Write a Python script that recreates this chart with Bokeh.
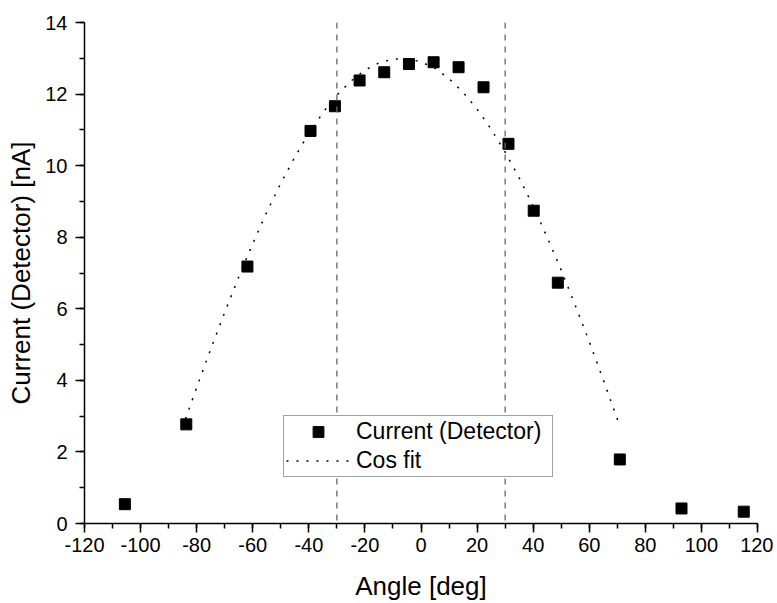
from bokeh.plotting import figure
from bokeh.models import Span, Legend, LegendItem, SingleIntervalTicker, Range1d
from bokeh.embed import file_html
from bokeh.resources import INLINE

# Measured data (Current at detector vs angle)
angle = [-105.6, -83.7, -61.9, -39.4, -30.7, -21.9, -13.1, -4.3, 4.5, 13.4,
         22.3, 31.2, 40.2, 48.8, 70.9, 92.9, 115.1]
current = [0.54, 2.77, 7.18, 10.97, 11.66, 12.38, 12.61, 12.84, 12.89, 12.75,
           12.19, 10.61, 8.74, 6.73, 1.79, 0.42, 0.33]

# Cos fit curve
fit_angle = [-84, -80, -75, -70, -65, -60, -55, -50, -45, -40, -35, -30, -25, -20,
             -15, -10, -5, 0, 5, 10, 15, 20, 25, 30, 35, 40, 45, 50, 55, 60, 65, 70, 71]
fit_current = [2.92, 3.80, 4.87, 5.90, 6.89, 7.82, 8.70, 9.51, 10.24, 10.90, 11.48,
               11.97, 12.36, 12.67, 12.87, 12.98, 12.99, 12.90, 12.72, 12.43, 12.05,
               11.58, 11.02, 10.38, 9.66, 8.87, 8.00, 7.08, 6.10, 5.08, 4.02, 2.92, 2.70]

# Reference angles (vertical dashed lines)
ref_angles = [-30, 30]

# Tick labels (x axis uses a plain hyphen for negatives)
x_ticks = [-120, -100, -80, -60, -40, -20, 0, 20, 40, 60, 80, 100, 120]
x_tick_labels = ["-120", "-100", "-80", "-60", "-40", "-20", "0", "20", "40",
                 "60", "80", "100", "120"]

FONT = "Liberation Sans"

p = figure(width=773, height=603, output_backend="svg", toolbar_location=None,
           x_range=Range1d(-120, 120), y_range=Range1d(0, 14),
           min_border_left=84, min_border_right=16, min_border_top=22,
           min_border_bottom=79)
p.outline_line_color = None
p.xgrid.visible = False
p.ygrid.visible = False
p.background_fill_color = "white"

for ax, interval in ((p.xaxis[0], 20), (p.yaxis[0], 2)):
    ax.ticker = SingleIntervalTicker(interval=interval, num_minor_ticks=2)
    ax.axis_line_width = 1.5
    ax.axis_line_color = "black"
    ax.major_tick_line_width = 1.5
    ax.minor_tick_line_width = 1.5
    ax.major_tick_line_color = "black"
    ax.minor_tick_line_color = "black"
    ax.major_tick_in = 0
    ax.major_tick_out = 9
    ax.minor_tick_in = 0
    ax.minor_tick_out = 5
    ax.major_label_text_font = FONT
    ax.major_label_text_font_size = "20px"
    ax.major_label_text_color = "black"
    ax.axis_label_text_font = FONT
    ax.axis_label_text_font_size = "26px"
    ax.axis_label_text_font_style = "normal"
    ax.axis_label_text_color = "black"

p.xaxis.major_label_overrides = {t: lab for t, lab in zip(x_ticks, x_tick_labels)}
p.xaxis.axis_label = "Angle [deg]"
p.yaxis.axis_label = "Current (Detector) [nA]"
p.xaxis.major_label_standoff = 5
p.yaxis.major_label_standoff = 8
p.xaxis.axis_label_standoff = 16
p.yaxis.axis_label_standoff = 6

for a in ref_angles:
    p.add_layout(Span(location=a, dimension="height", line_color="#666666",
                      line_width=1.3, line_dash="6 6"))

fit_r = p.line(fit_angle, fit_current, line_color="black", line_width=1.5,
               line_dash="2 8")
pts_r = p.scatter(angle, current, marker="square", size=11, fill_color="black",
                  line_color="black")

legend = Legend(items=[LegendItem(label="Current (Detector)", renderers=[pts_r]),
                       LegendItem(label="Cos fit", renderers=[fit_r])],
                location=(199, 46), orientation="vertical",
                padding=2, spacing=2, margin=0,
                glyph_width=64, glyph_height=27, label_height=27,
                label_width=194, label_standoff=6,
                label_text_font=FONT, label_text_font_size="23px",
                label_text_color="black",
                border_line_color="#444444", border_line_width=1,
                background_fill_color="white", background_fill_alpha=1.0)
p.add_layout(legend, "center")

open("out.html", "w").write(file_html(p, INLINE))
